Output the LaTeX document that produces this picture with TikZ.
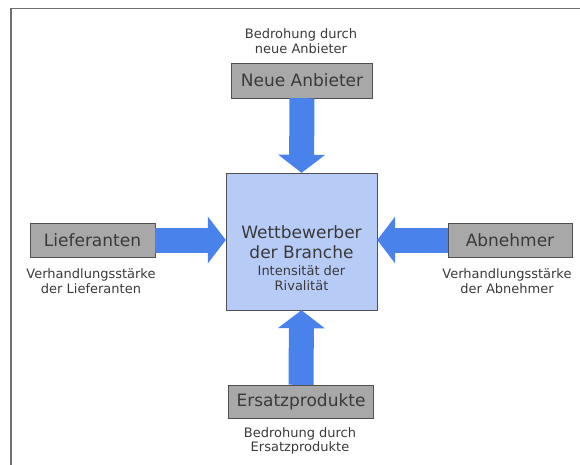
\documentclass[tikz,border=0pt]{standalone}
\usepackage{fontspec}
\setmainfont{DejaVu Sans}
\usepackage{xcolor}
\usepackage{tikz}
\usetikzlibrary{arrows.meta, positioning}

\definecolor{boxgray}{HTML}{A8A8A8}
\definecolor{boxline}{HTML}{505050}
\definecolor{centerblue}{HTML}{B7CBF7}
\definecolor{arrowblue}{HTML}{4A82EC}
\definecolor{textgray}{HTML}{3A3A3A}
\definecolor{framegray}{HTML}{707070}

\begin{document}
\begin{tikzpicture}[x=1pt,y=-1pt]
        \useasboundingbox (0,0) rectangle (580,464);
        \begin{scope}
          \clip (0,0) rectangle (580,464);
          \draw[framegray, line width=1.5pt] (11,8.5) rectangle (600,480);
        \end{scope}
        \begin{scope}[every node/.style={draw=boxline,fill=boxgray,text=textgray,inner sep=0pt,font=\fontsize{17}{20}\selectfont}]
          \node[minimum width=141pt,minimum height=35pt] (neue) at (302,80.5) {Neue Anbieter};
          \node[minimum width=125pt,minimum height=34pt] (lief) at (92.5,240) {Lieferanten};
          \node[minimum width=124pt,minimum height=34pt] (abn) at (510,240) {Abnehmer};
          \node[minimum width=145pt,minimum height=33pt] (ersatz) at (301,401.5) {Ersatzprodukte};
          \node[fill=centerblue,minimum width=151pt,minimum height=137pt] (wett) at (301.5,241.5) {};
        \end{scope}
        \node[text=textgray,align=center,font=\fontsize{17}{20}\selectfont] (twett) at (301.5,258)
          {Wettbewerber\\der Branche\\[-3pt]{\fontsize{13}{15}\selectfont Intensität der}\\[-5pt]{\fontsize{13}{15}\selectfont Rivalität}};
        \begin{scope}[every node/.style={text=textgray,align=center,font=\fontsize{13}{14.5}\selectfont}]
          \node (tneue) at (301,41) {Bedrohung durch\\neue Anbieter};
          \node (tlief) at (91,281) {Verhandlungsstärke\\der Lieferanten};
          \node (tabn) at (507,281) {Verhandlungsstärke\\der Abnehmer};
          \node (tersatz) at (300,441) {Bedrohung durch\\Ersatzprodukte};
        \end{scope}
        \begin{scope}[every edge/.style={draw=arrowblue,line width=25pt,-{Triangle[width=46pt,length=18pt]}}]
          \path (neue.south) edge (wett.north);
          \path (lief.east) edge (lief.east -| wett.west);
          \path (abn.west) edge (abn.west -| wett.east);
          \path (ersatz.north) edge (wett.south);
        \end{scope}
\end{tikzpicture}
\end{document}
